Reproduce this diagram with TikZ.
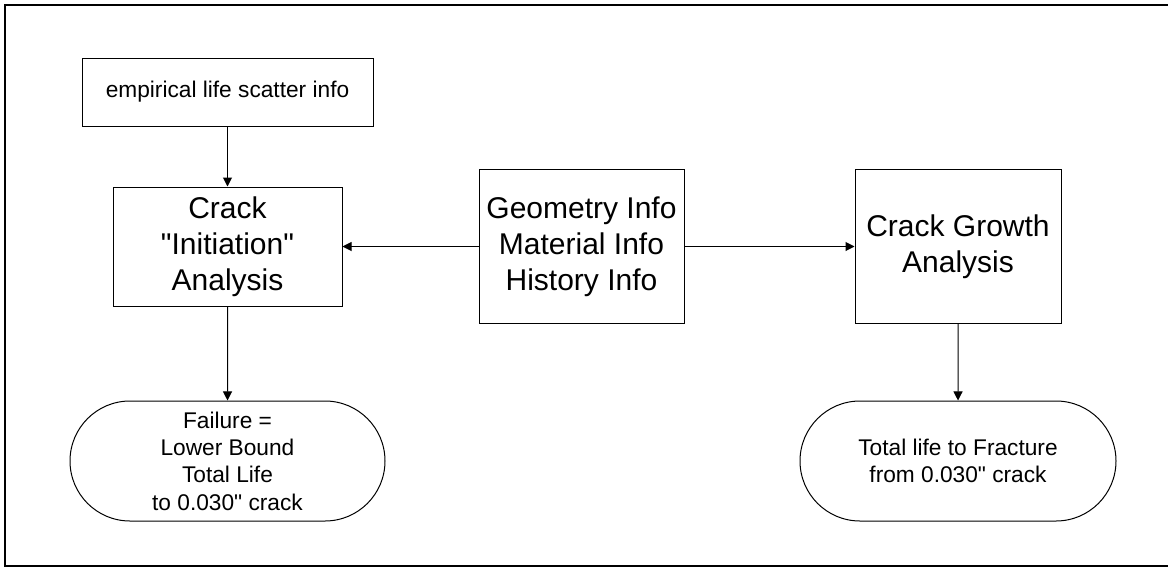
\documentclass[tikz,border=0pt]{standalone}
\usepackage{fontspec}
\setmainfont{Liberation Sans}
\usetikzlibrary{arrows.meta,shapes.misc}

\begin{document}
\begin{tikzpicture}[x=1pt,y=-1pt,
  box/.style={draw,line width=1pt,align=center,inner sep=2pt},
  bigtext/.style={font=\fontsize{30}{36}\selectfont},
  smalltext/.style={font=\fontsize{22.7}{27.3}\selectfont},
  term/.style={box,smalltext,rounded rectangle,minimum height=120pt},
  flow/.style={line width=1pt,-{Triangle[length=9pt,width=9pt]}}]
  \useasboundingbox (0,0) rectangle (1168,568);
  \draw[line width=2pt] (1168,5) -- (5,5) -- (5,566) -- (1168,566);
  \coordinate (c0) at (227.5,92);
  \coordinate (c1) at (227.5,246.5);
  \coordinate (c2) at (581.5,246.5);
  \coordinate (c3) at (958,246.5);
  \coordinate (c4) at (227.5,461);
  \coordinate (c5) at (958,461);
  \node[box,smalltext,minimum width=291pt,minimum height=68pt] (scatter) at (c0) {empirical life scatter info};
  \node[box,bigtext,minimum width=229pt,minimum height=119pt] (init) at (c1) {Crack\\\textquotedbl Initiation\textquotedbl\\Analysis};
  \node[box,bigtext,minimum width=205pt,minimum height=154pt] (geom) at (c2) {Geometry Info\\Material Info\\History Info};
  \node[box,bigtext,minimum width=206pt,minimum height=154pt] (growth) at (c3) {Crack Growth\\Analysis};
  \node[term,minimum width=319pt] (fail) at (c4) {Failure =\\Lower Bound\\Total Life\\to 0.030\textquotedbl{} crack};
  \node[term,minimum width=320pt] (total) at (c5) {Total life to Fracture\\from 0.030\textquotedbl{} crack};
  \draw[flow] (scatter) -- (init);
  \draw[flow] (init) -- (fail);
  \draw[flow] (geom) -- (init);
  \draw[flow] (geom) -- (growth);
  \draw[flow] (growth) -- (total);
\end{tikzpicture}
\end{document}
